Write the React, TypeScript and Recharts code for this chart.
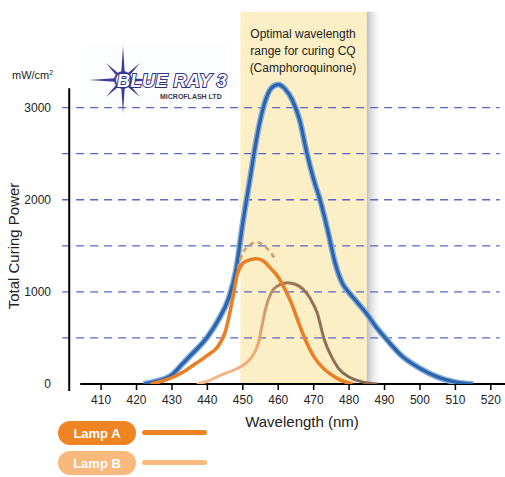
import { LineChart, Line, XAxis, YAxis, ReferenceLine, ReferenceArea } from "recharts";

// wavelength ticks (nm) and power ticks (mW/cm²)
const NM_TICKS = [410, 420, 430, 440, 450, 460, 470, 480, 490, 500, 510, 520];
const POWER_TICKS = [0, 1000, 2000, 3000];
const GRID_LEVELS = [500, 1000, 1500, 2000, 2500, 3000];

// optimal CQ curing band
const BAND_NM = [449.3, 485];

// Blue Ray 3 total output
const BLUE_NM = [422, 425, 430, 433, 435, 440, 443, 446, 448, 450, 452, 454, 456, 458, 460, 462, 464, 466, 468, 470, 472, 474, 476, 478, 480, 482, 485, 488, 490, 495, 500, 505, 510, 515];
const BLUE_MW = [0, 25, 100, 220, 300, 510, 690, 930, 1220, 1750, 2220, 2690, 3030, 3210, 3250, 3200, 3080, 2870, 2520, 2220, 1970, 1660, 1320, 1100, 990, 900, 760, 600, 510, 300, 170, 75, 20, 0];

// Lamp A
const LAMP_A_NM = [424, 427, 430, 434, 437, 440, 443, 445, 447, 448.5, 450, 452, 454, 456, 458, 460, 462, 464, 466, 468, 470, 472, 475, 478, 481];
const LAMP_A_MW = [0, 30, 70, 150, 230, 310, 410, 560, 900, 1200, 1310, 1350, 1360, 1330, 1250, 1160, 1020, 850, 640, 450, 300, 200, 100, 35, 0];
// Lamp A dashed crest
const LAMP_A_DASH_NM = [448.5, 450, 452, 454, 456, 458, 459.5];
const LAMP_A_DASH_MW = [1250, 1420, 1510, 1540, 1500, 1420, 1330];

// Lamp B
const LAMP_B_NM = [437, 440, 444, 448, 451, 453, 454.5, 455.5, 456.5, 458, 460, 462.5, 465, 467, 469, 471, 473, 475, 477, 480, 484, 488];
const LAMP_B_MW = [0, 30, 100, 160, 230, 320, 460, 650, 830, 990, 1070, 1100, 1080, 1030, 930, 770, 480, 300, 170, 75, 20, 0];

const toPoints = (nm: number[], mw: number[]) => nm.map((x, i) => ({ nm: x, mw: mw[i] }));

const FONT = "'Liberation Sans', Arial, sans-serif";
const GRID_COLOR = "#5668c6";

function Pill({ top, color, text }: { top: number; color: string; text: string }) {
  return (
    <>
      <div
        style={{
          position: "absolute", left: 58, top, width: 78, height: 24, borderRadius: 12,
          background: color, color: "#fff", fontFamily: FONT, fontWeight: 700, fontSize: 13,
          display: "flex", alignItems: "center", justifyContent: "center"
        }}
      >
        {text}
      </div>
      <div style={{ position: "absolute", left: 142, top: top + 9, width: 65, height: 5, borderRadius: 3, background: color }} />
    </>
  );
}

function starPoints(cx: number, cy: number) {
  const pts: string[] = [];
  for (let i = 0; i < 16; i++) {
    const a = (i * Math.PI) / 8 - Math.PI / 2;
    const r = i % 2 === 0 ? (i % 4 === 0 ? 34 : 24) : 5;
    pts.push(`${cx + r * Math.cos(a)},${cy + r * Math.sin(a)}`);
  }
  return pts.join(" ");
}

export default function App() {
  return (
    <div style={{ position: "absolute", left: 0, top: 0, width: 505, height: 477, background: "#fff", fontFamily: FONT }}>
      <svg width={505} height={477} style={{ position: "absolute", left: 0, top: 0 }}>
        <defs>
          <linearGradient id="lampBGrad" x1="0" y1="0" x2="1" y2="0">
            <stop offset="0" stopColor="#f5bb8c" />
            <stop offset="0.33" stopColor="#efab76" />
            <stop offset="0.47" stopColor="#9c785b" />
            <stop offset="1" stopColor="#856650" />
          </linearGradient>
          <linearGradient id="bandShadow" x1="0" y1="0" x2="1" y2="0">
            <stop offset="0" stopColor="#8a8a8a" stopOpacity={0.55} />
            <stop offset="1" stopColor="#ffffff" stopOpacity={0} />
          </linearGradient>
        </defs>
      </svg>
      <LineChart width={505} height={477} margin={{ top: 80, right: 0, bottom: 63, left: 0 }} style={{ position: "absolute", left: 0, top: 0 }}>
        <XAxis
          dataKey="nm" type="number" domain={[398.4, 524]} allowDataOverflow ticks={NM_TICKS} height={30}
          axisLine={false} tickSize={6} tickMargin={5} tickLine={{ stroke: "#000", strokeWidth: 1.5 }}
          tick={{ fill: "#222", fontSize: 12, fontFamily: FONT }} interval={0}
        />
        <YAxis
          dataKey="mw" type="number" domain={[0, 3300]} allowDataOverflow ticks={POWER_TICKS} width={60}
          axisLine={false} tickLine={false} tickMargin={3} tick={{ fill: "#222", fontSize: 12, fontFamily: FONT }}
        />
        <ReferenceArea x1={BAND_NM[0]} x2={BAND_NM[1]} y1={0} y2={4040} ifOverflow="visible" fill="#fcefc6" fillOpacity={1} stroke="none" />
        <ReferenceArea x1={BAND_NM[1]} x2={BAND_NM[1] + 4.5} y1={-2} y2={4040} ifOverflow="visible" fill="url(#bandShadow)" fillOpacity={1} stroke="none" />
        {GRID_LEVELS.map((v) => (
          <ReferenceLine
            key={v}
            segment={[{ x: 399, y: v }, { x: 522.5, y: v }]}
            ifOverflow="visible" stroke={GRID_COLOR} strokeWidth={1.3} strokeDasharray="8 6"
          />
        ))}
        <ReferenceLine segment={[{ x: 404.1, y: 0 }, { x: 524, y: 0 }]} ifOverflow="visible" stroke="#000" strokeWidth={2} />
        <ReferenceLine segment={[{ x: 401, y: -75 }, { x: 401, y: 3210 }]} ifOverflow="visible" stroke="#000" strokeWidth={2} />
        <Line data={toPoints(BLUE_NM, BLUE_MW)} dataKey="mw" type="monotone" stroke="#86acd9" strokeWidth={6} dot={false} activeDot={false} isAnimationActive={false} />
        <Line data={toPoints(BLUE_NM, BLUE_MW)} dataKey="mw" type="monotone" stroke="#2b64ac" strokeWidth={3.2} dot={false} activeDot={false} isAnimationActive={false} />
        <Line data={toPoints(LAMP_B_NM, LAMP_B_MW)} dataKey="mw" type="monotone" stroke="url(#lampBGrad)" strokeWidth={3} dot={false} activeDot={false} isAnimationActive={false} />
        <Line data={toPoints(LAMP_A_DASH_NM, LAMP_A_DASH_MW)} dataKey="mw" type="monotone" stroke="#d49a6c" strokeWidth={2.5} strokeDasharray="5 4" dot={false} activeDot={false} isAnimationActive={false} />
        <Line data={toPoints(LAMP_A_NM, LAMP_A_MW)} dataKey="mw" type="monotone" stroke="#eb7f25" strokeWidth={3.6} dot={false} activeDot={false} isAnimationActive={false} />
      </LineChart>
      <svg width={505} height={477} style={{ position: "absolute", left: 0, top: 0, pointerEvents: "none" }}>
        <text x={303} y={38} textAnchor="middle" fontSize={12} fill="#222" fontFamily={FONT}>
          <tspan x={303} dy={0}>Optimal wavelength</tspan>
          <tspan x={303} dy={17}>range for curing CQ</tspan>
          <tspan x={303} dy={17}>(Camphoroquinone)</tspan>
        </text>
        <text x={12} y={79} fontSize={11} fill="#222" fontFamily={FONT}>
          mW/cm<tspan fontSize={7} dy={-4}>2</tspan>
        </text>
        <text x={19} y={246} transform="rotate(-90 19 246)" textAnchor="middle" fontSize={15} fill="#222" fontFamily={FONT}>
          Total Curing Power
        </text>
        <text x={302} y={427} textAnchor="middle" fontSize={15} fill="#222" fontFamily={FONT}>
          Wavelength (nm)
        </text>
        {/* logo */}
        <rect x={87} y={45} width={140} height={60} fill="#fafbfd" opacity={0.6} />
        <polygon points={starPoints(123, 80)} fill="#3b3f94" />
        <circle cx={123} cy={80} r={8} fill="#fff" stroke="#3b3f94" strokeWidth={2} />
        <text x={117} y={87} fontSize={18} fontWeight={900} fontStyle="italic" fill="#fff" stroke="#2e3288" strokeWidth={2} paintOrder="stroke" fontFamily={FONT} letterSpacing={0.5}>
          BLUE RAY 3
        </text>
        <text x={160} y={99} fontSize={7} fontWeight={700} fill="#3a3a4a" fontFamily={FONT}>
          MICROFLASH LTD
        </text>
      </svg>
      <Pill top={421} color="#f08322" text="Lamp A" />
      <Pill top={451} color="#f9b87c" text="Lamp B" />
    </div>
  );
}
